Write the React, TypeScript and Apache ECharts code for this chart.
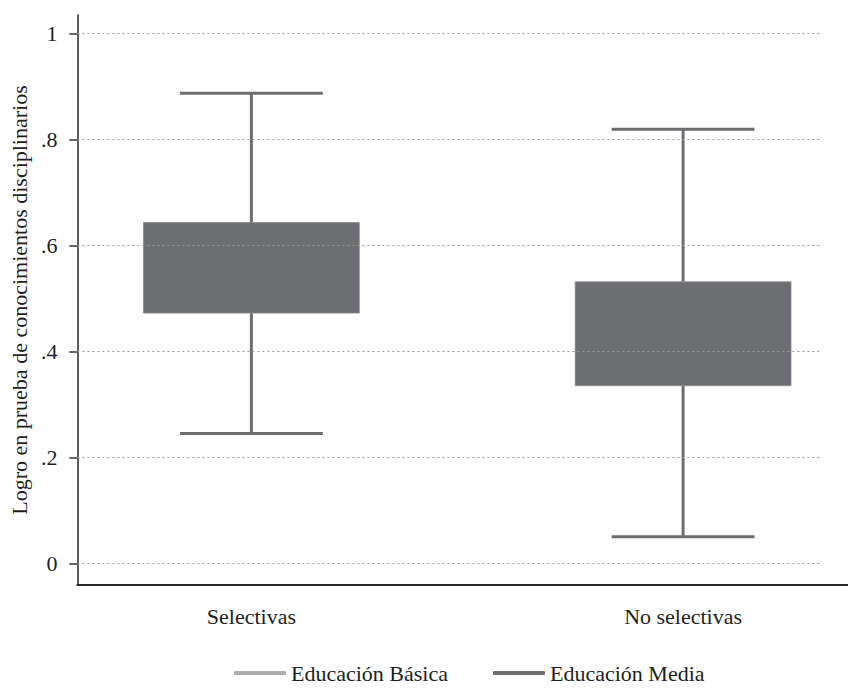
import React, { useEffect, useRef } from "react";
import * as echarts from "echarts";

const categories = ["Selectivas", "No selectivas"];
const categoryPos = [1, 2];
const whiskerLow = [0.245, 0.05];
const q1 = [0.472, 0.335];
const q3 = [0.643, 0.531];
const whiskerHigh = [0.887, 0.819];
const yTicks = [0, 0.2, 0.4, 0.6, 0.8, 1];
const yTickLabels = ["0", ".2", ".4", ".6", ".8", "1"];
const seriesNames = ["Educación Básica", "Educación Media"];

const FONT = "'Liberation Serif', 'DejaVu Serif', serif";
const BOX_COLOR = "#6d6e71";
const BASICA_COLOR = "#ababab";
const TEXT_COLOR = "#1e1e1e";
const BOX_W = 0.5;
const CAP_W = 0.331;
const X_MIN = 0.597;
const X_MAX = 2.382;
const GRID_END = 2.3175;

export default function App() {
  const ref = useRef<HTMLDivElement>(null);
  useEffect(() => {
    if (!ref.current) return;
    const chart = echarts.init(ref.current, null, { renderer: "svg" });
    const data = categories.map((c, i) => [
      categoryPos[i],
      whiskerLow[i],
      q1[i],
      q3[i],
      whiskerHigh[i],
    ]);
    const option: any = {
      animation: false,
      backgroundColor: "#ffffff",
      textStyle: { fontFamily: FONT, color: TEXT_COLOR },
      grid: { left: 76, right: 0, top: 15, bottom: 108 },
      legend: {
        left: 234,
        top: 662,
        padding: 0,
        itemWidth: 52,
        itemHeight: 4,
        itemGap: 45,
        icon: "roundRect",
        textStyle: { fontFamily: FONT, fontSize: 22, color: TEXT_COLOR },
        data: [
          { name: seriesNames[0], itemStyle: { color: BASICA_COLOR } },
          { name: seriesNames[1], itemStyle: { color: BOX_COLOR } },
        ],
      },
      xAxis: {
        type: "value",
        min: X_MIN,
        max: X_MAX,
        splitLine: { show: false },
        axisTick: { show: false },
        axisLine: { show: true, onZero: false, lineStyle: { color: "#262626", width: 2 } },
        axisLabel: {
          customValues: categoryPos,
          formatter: (v: number) => {
            const idx = categoryPos.indexOf(Math.round(v));
            return idx >= 0 ? categories[idx] : "";
          },
          fontFamily: FONT,
          fontSize: 22,
          color: TEXT_COLOR,
          margin: 20,
        },
      },
      yAxis: {
        type: "value",
        min: -0.041,
        max: 1.0345,
        name: "Logro en prueba de conocimientos disciplinarios",
        nameLocation: "middle",
        nameGap: 40,
        nameTextStyle: { fontFamily: FONT, fontSize: 22, color: TEXT_COLOR },
        splitLine: { show: false },
        axisLine: { show: true, onZero: false, lineStyle: { color: "#5e5e5e", width: 2 } },
        axisTick: {
          show: true,
          length: 8,
          customValues: yTicks,
          lineStyle: { color: "#333333", width: 1.5 },
        },
        axisLabel: {
          customValues: yTicks,
          formatter: (v: number) => {
            const idx = yTicks.findIndex((t) => Math.abs(t - v) < 1e-6);
            return idx >= 0 ? yTickLabels[idx] : "";
          },
          fontFamily: FONT,
          fontSize: 22,
          color: TEXT_COLOR,
          margin: 20,
        },
      },
      series: [
        {
          name: seriesNames[0],
          type: "line",
          data: [],
          color: BASICA_COLOR,
          silent: true,
          markLine: {
            silent: true,
            symbol: "none",
            label: { show: false },
            lineStyle: { color: "#9a9a9a", type: [2, 3], width: 1 },
            data: yTicks.map((v) => [
              { coord: [X_MIN, v] },
              { coord: [GRID_END, v] },
            ]),
          },
        },
        {
          name: seriesNames[1],
          type: "custom",
          color: BOX_COLOR,
          itemStyle: { color: BOX_COLOR },
          encode: { x: 0, y: [1, 2, 3, 4] },
          data,
          renderItem: (params: any, api: any) => {
            const x = api.value(0);
            const pLo = api.coord([x, api.value(1)]);
            const pQ1 = api.coord([x, api.value(2)]);
            const pQ3 = api.coord([x, api.value(3)]);
            const pHi = api.coord([x, api.value(4)]);
            const boxW = api.size([BOX_W, 0])[0];
            const capW = api.size([CAP_W, 0])[0];
            const lineStyle = { stroke: BOX_COLOR, lineWidth: 3 };
            return {
              type: "group",
              children: [
                {
                  type: "line",
                  shape: { x1: pQ3[0], y1: pQ3[1], x2: pHi[0], y2: pHi[1] },
                  style: lineStyle,
                },
                {
                  type: "line",
                  shape: { x1: pQ1[0], y1: pQ1[1], x2: pLo[0], y2: pLo[1] },
                  style: lineStyle,
                },
                {
                  type: "line",
                  shape: {
                    x1: pHi[0] - capW / 2,
                    y1: pHi[1],
                    x2: pHi[0] + capW / 2,
                    y2: pHi[1],
                  },
                  style: lineStyle,
                },
                {
                  type: "line",
                  shape: {
                    x1: pLo[0] - capW / 2,
                    y1: pLo[1],
                    x2: pLo[0] + capW / 2,
                    y2: pLo[1],
                  },
                  style: lineStyle,
                },
                {
                  type: "rect",
                  shape: {
                    x: pQ3[0] - boxW / 2,
                    y: pQ3[1],
                    width: boxW,
                    height: pQ1[1] - pQ3[1],
                  },
                  style: { fill: BOX_COLOR, stroke: "#8a8b8e", lineWidth: 0.8 },
                },
              ],
            };
          },
        },
      ],
    };
    chart.setOption(option);
    return () => chart.dispose();
  }, []);
  return (
    <div
      ref={ref}
      style={{ position: "absolute", left: 0, top: 0, width: 848, height: 693 }}
    />
  );
}
